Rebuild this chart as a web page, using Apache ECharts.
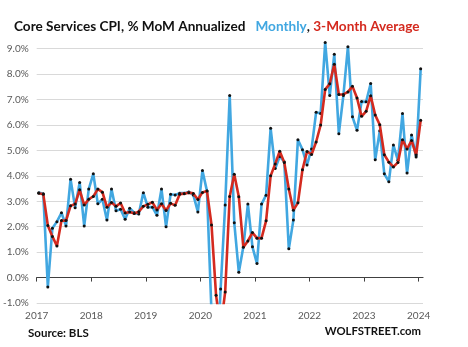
<!DOCTYPE html>
<html>
<head>
<meta charset="utf-8">
<script src="https://cdn.jsdelivr.net/npm/echarts@6/dist/echarts.min.js"></script>
<style>
  html, body { margin: 0; padding: 0; background: #ffffff; }
  #chart { width: 468px; height: 347px; }
</style>
</head>
<body>
<div id="chart"></div>
<script>
// Core services CPI, month-over-month change, annualized (%), Jan 2017 – Jan 2024
const startYear = 2017;
const yearTicks = [2017, 2018, 2019, 2020, 2021, 2022, 2023, 2024];
const yTicks = [-1, 0, 1, 2, 3, 4, 5, 6, 7, 8, 9];

const monthly = [
  3.34, 3.30, -0.37, 1.94, 2.20, 2.55, 2.03, 3.87, 2.75, 3.74, 2.03, 3.48,   // 2017
  4.08, 2.90, 3.08, 2.26, 3.48, 2.63, 2.69, 2.29, 2.73, 2.55, 2.50, 3.34,    // 2018
  2.77, 2.77, 2.45, 3.48, 2.00, 3.28, 3.25, 3.32, 3.32, 3.37, 3.25, 2.58,    // 2019
  4.21, 3.40, -1.40, -4.10, -0.45, 2.85, 7.16, 2.16, 0.21, 1.21, 2.89, 1.21, // 2020
  0.55, 2.89, 3.24, 5.87, 4.29, 4.76, 4.55, 1.13, 2.26, 5.42, 5.03, 4.43,    // 2021
  5.06, 6.50, 6.45, 9.24, 7.16, 8.78, 5.66, 7.16, 9.08, 6.32, 5.79, 6.92,    // 2022
  6.91, 7.63, 4.63, 5.77, 4.08, 3.77, 5.21, 4.61, 6.45, 4.11, 5.61, 4.74,    // 2023
  8.21                                                                       // 2024
];

const threeMonthAvg = [
  3.32, 3.28, 2.05, 1.62, 1.24, 2.24, 2.24, 2.82, 2.89, 3.45, 2.85, 3.08,    // 2017
  3.19, 3.48, 3.36, 2.77, 2.95, 2.80, 2.93, 2.54, 2.58, 2.52, 2.59, 2.80,    // 2018
  2.88, 2.96, 2.66, 2.90, 2.64, 2.92, 2.84, 3.28, 3.30, 3.34, 3.31, 3.07,    // 2019
  3.35, 3.40, 2.07, -0.70, -1.98, -0.57, 3.19, 4.06, 3.18, 1.19, 1.44, 1.77, // 2020
  1.55, 1.55, 2.23, 4.00, 4.47, 4.97, 4.53, 3.48, 2.65, 2.94, 4.24, 4.96,    // 2021
  4.84, 5.33, 6.00, 7.40, 7.62, 8.39, 7.20, 7.20, 7.30, 7.52, 7.06, 6.34,    // 2022
  6.54, 7.15, 6.39, 6.01, 4.83, 4.54, 4.35, 4.53, 5.42, 5.06, 5.39, 4.82,    // 2023
  6.19                                                                       // 2024
];

// each monthly reading sits at the middle of its month, in fractional years
const monthPos = i => startYear + (i + 0.45) / 12;
const toPairs = arr => arr.map((v, i) => [monthPos(i), v]);

const BLUE = '#41a7e1';
const RED = '#d42a1f';
const FONT = 'Lato';

const chart = echarts.init(document.getElementById('chart'), null, { renderer: 'canvas' });

const xScale = { type: 'value', min: startYear, max: 2024.08, interval: 1 };

chart.setOption({
  animation: false,
  backgroundColor: '#ffffff',
  title: {
    left: 9,
    top: 13,
    text: '{a|Core Services CPI, % MoM Annualized}  {b|Monthly}{a|, }{c|3-Month Average}',
    textStyle: {
      rich: {
        a: { fontFamily: FONT, fontWeight: 'bold', fontSize: 13.6, color: '#111111' },
        b: { fontFamily: FONT, fontWeight: 'bold', fontSize: 13.6, color: BLUE },
        c: { fontFamily: FONT, fontWeight: 'bold', fontSize: 13.6, color: RED }
      }
    }
  },
  graphic: [
    {
      type: 'text', left: 28, top: 327,
      style: { text: 'Source: BLS', fontFamily: FONT, fontWeight: 'bold', fontSize: 11.5, fill: '#111111' }
    },
    {
      type: 'text', right: 47, top: 326,
      style: { text: 'WOLFSTREET.com', fontFamily: FONT, fontWeight: 'bold', fontSize: 11.3, fill: '#111111' }
    }
  ],
  // plot area reaches a little above the 9% line so the highest peaks are not cut off
  grid: { left: 34, right: 45, top: 36, bottom: 44, containLabel: false },
  xAxis: [
    Object.assign({}, xScale, {
      position: 'bottom',
      axisLine: { show: true, onZero: true, lineStyle: { color: '#404040', width: 1.2 } },
      axisTick: { show: true, length: 4, customValues: yearTicks, lineStyle: { color: '#404040', width: 1 } },
      axisLabel: { show: false },
      splitLine: { show: false }
    }),
    Object.assign({}, xScale, {
      position: 'bottom',
      axisLine: { show: false, onZero: false },
      axisTick: { show: false },
      splitLine: { show: false },
      axisLabel: {
        show: true,
        customValues: yearTicks,
        margin: 8,
        color: '#595959',
        fontFamily: FONT,
        fontSize: 10,
        formatter: v => String(v)
      }
    })
  ],
  yAxis: {
    type: 'value',
    min: yTicks[0],
    max: 9.5,
    interval: 1,
    axisLine: { show: false },
    axisTick: { show: false, customValues: yTicks },
    axisLabel: {
      margin: 8,
      customValues: yTicks,
      color: '#595959',
      fontFamily: FONT,
      fontSize: 10,
      formatter: v => v.toFixed(1) + '%'
    },
    splitLine: { show: true, lineStyle: { color: '#d9d9d9', width: 1 } }
  },
  series: [
    {
      name: 'Monthly',
      type: 'line',
      xAxisIndex: 0,
      data: toPairs(monthly),
      clip: true,
      symbol: 'circle',
      symbolSize: 3,
      itemStyle: { color: '#111111' },
      lineStyle: { color: BLUE, width: 2.6 },
      z: 2
    },
    {
      name: '3-Month Average',
      type: 'line',
      xAxisIndex: 0,
      data: toPairs(threeMonthAvg),
      clip: true,
      symbol: 'circle',
      symbolSize: 3,
      itemStyle: { color: '#111111' },
      lineStyle: { color: RED, width: 2.6 },
      z: 3
    }
  ]
});
</script>
</body>
</html>
